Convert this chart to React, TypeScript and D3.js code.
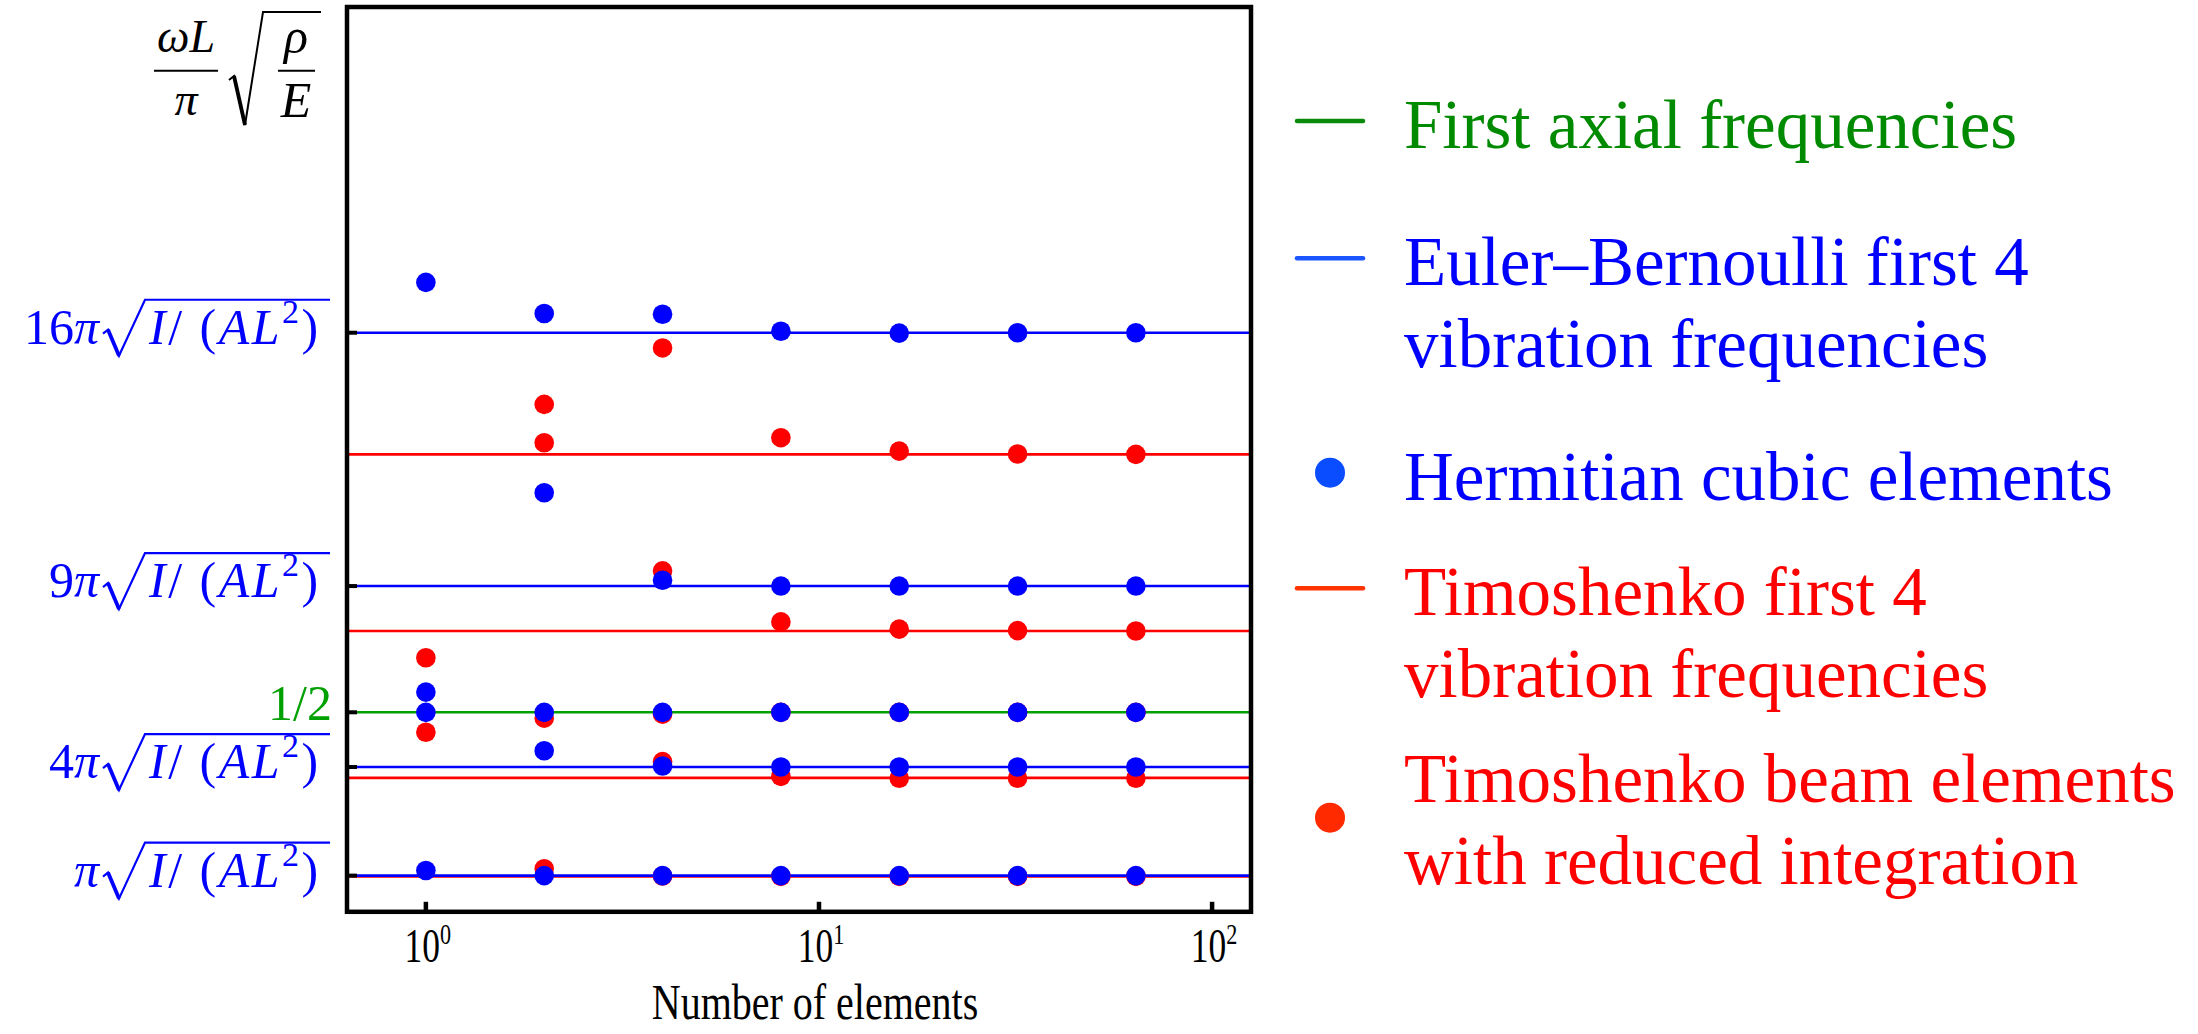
import React from 'react';
import * as d3 from 'd3';

// Number of finite elements used along the beam
const elementCounts = [1, 2, 4, 8, 16, 32, 64];

// π·√(I/(AL²)) for a beam of slenderness h/L = 0.1, in units of ωL/π·√(ρ/E)
const beamUnit = 0.0907;
const axialFrequency = 0.5;

// Analytic frequencies, as multiples of beamUnit
const eulerBernoulliModes = [1, 4, 9, 16];
const eulerBernoulliCoefs = ['', '4', '9', '16'];
const timoshenkoModes = [0.98, 3.7, 7.76, 12.64];

// Computed frequencies, as multiples of beamUnit (one list per element count)
const hermitianValues = [
  [17.39, 6.07, 5.51, 1.14],
  [16.53, 11.58, 5.51, 4.45, 1.0],
  [16.51, 9.16, 5.51, 4.03, 1.0],
  [16.04, 9.0, 5.51, 4.0, 1.0],
  [15.99, 9.0, 5.51, 4.0, 1.0],
  [16.0, 9.0, 5.51, 4.0, 1.0],
  [16.0, 9.0, 5.51, 4.0, 1.0],
];
const reducedIntegrationValues = [
  [7.02, 4.96],
  [14.02, 12.96, 5.35, 1.19],
  [15.58, 9.42, 5.46, 4.15, 0.99],
  [13.1, 8.01, 5.51, 3.74, 0.98],
  [12.73, 7.81, 5.51, 3.69, 0.98],
  [12.65, 7.77, 5.51, 3.69, 0.98],
  [12.64, 7.76, 5.51, 3.69, 0.98],
];

const xTickExponents = [0, 1, 2];

const legendEntries = [
  { kind: 'line', color: '#0a8a0a', text: '#008a00', lines: ['First axial frequencies'] },
  { kind: 'line', color: '#1a55ff', text: '#0000ff', lines: ['Euler\u2013Bernoulli first 4', 'vibration frequencies'] },
  { kind: 'dot', color: '#0a4cff', text: '#0000ff', lines: ['Hermitian cubic elements'] },
  { kind: 'line', color: '#ff3300', text: '#ff0000', lines: ['Timoshenko first 4', 'vibration frequencies'] },
  { kind: 'dot', color: '#ff2a00', text: '#ff0000', lines: ['Timoshenko beam elements', 'with reduced integration'] },
];

const W = 2198;
const H = 1034;
const frame = { left: 347, right: 1251, top: 7, bottom: 911.8 };
const serif = "'Liberation Serif', 'Times New Roman', serif";

const BLUE = '#0000ff';
const RED = '#ff0000';
const GREEN = '#00a000';

function RadicalLabel({ y, coef }: { y: number; coef: string }) {
  const b = y + 11;
  const top = b - 44;
  return (
    <g fill={BLUE} fontFamily={serif}>
      <text x={99} y={b} fontSize={50} textAnchor="end">
        {coef}
        <tspan fontStyle="italic">π</tspan>
      </text>
      <path
        d={`M103,${b - 10} L108,${b - 14} L119,${b + 12} L145,${top} L330,${top}`}
        fill="none"
        stroke={BLUE}
        strokeWidth={2.2}
        strokeLinejoin="miter"
      />
      <path d={`M108,${b - 14} L119,${b + 12}`} stroke={BLUE} strokeWidth={3.8} />
      <text x={149} y={b} fontSize={50} letterSpacing={2.5}>
        <tspan fontStyle="italic">I</tspan>
        <tspan>/ (</tspan>
        <tspan fontStyle="italic">AL</tspan>
        <tspan fontSize={34} dy={-21}>2</tspan>
        <tspan dy={21}>)</tspan>
      </text>
    </g>
  );
}

export default function App() {
  const x = d3.scaleLog().domain([0.63, 125.6]).range([frame.left, frame.right]);
  const y = d3.scaleLinear().domain([0, 25]).range([frame.bottom, frame.top]);

  const hermitianPoints = elementCounts.flatMap((n, i) => hermitianValues[i].map((v) => ({ n, v })));
  const reducedPoints = elementCounts.flatMap((n, i) => reducedIntegrationValues[i].map((v) => ({ n, v })));
  const axialLevel = axialFrequency / beamUnit;

  const hLine = (v: number, color: string, key: string) => (
    <line key={key} x1={frame.left} x2={frame.right} y1={y(v)} y2={y(v)} stroke={color} strokeWidth={2.6} />
  );

  const yTicks = [...eulerBernoulliModes, axialLevel];

  return (
    <svg
      width={W}
      height={H}
      viewBox={`0 0 ${W} ${H}`}
      style={{ position: 'absolute', left: 0, top: 0, background: '#fff' }}
    >
      <rect width={W} height={H} fill="#fff" />

      {/* y-axis quantity */}
      <g fontFamily={serif} fill="#000">
        <text x={186} y={52} fontSize={46} fontStyle="italic" textAnchor="middle">ωL</text>
        <line x1={154} x2={218} y1={70.7} y2={70.7} stroke="#000" strokeWidth={2} />
        <text x={186} y={115} fontSize={46} fontStyle="italic" textAnchor="middle">π</text>
        <path d="M229,80 L234,76 L245,125 L263,12 L321,12" fill="none" stroke="#000" strokeWidth={2} />
        <path d="M234,76 L245,125" stroke="#000" strokeWidth={3.8} />
        <text x={296} y={53} fontSize={50} fontStyle="italic" textAnchor="middle">ρ</text>
        <line x1={278} x2={315} y1={70.7} y2={70.7} stroke="#000" strokeWidth={2} />
        <text x={296} y={117} fontSize={50} fontStyle="italic" textAnchor="middle">E</text>
      </g>

      {/* analytic frequencies */}
      <g>
        {timoshenkoModes.map((m, i) => hLine(m, RED, `t${i}`))}
        {hLine(axialLevel, GREEN, 'axial')}
        {eulerBernoulliModes.map((m, i) => hLine(m, BLUE, `e${i}`))}
      </g>

      {/* computed frequencies */}
      <g>
        {reducedPoints.map((p, i) => (
          <circle key={`r${i}`} cx={x(p.n)} cy={y(p.v)} r={9.8} fill={RED} />
        ))}
        {hermitianPoints.map((p, i) => (
          <circle key={`h${i}`} cx={x(p.n)} cy={y(p.v)} r={9.8} fill={BLUE} />
        ))}
      </g>

      {/* frame and ticks */}
      <rect
        x={frame.left}
        y={frame.top}
        width={frame.right - frame.left}
        height={frame.bottom - frame.top}
        fill="none"
        stroke="#000"
        strokeWidth={4.5}
      />
      {yTicks.map((v, i) => (
        <line key={`yt${i}`} x1={frame.left} x2={frame.left + 10} y1={y(v)} y2={y(v)} stroke="#000" strokeWidth={4} />
      ))}
      {xTickExponents.map((k) => (
        <line
          key={`xt${k}`}
          x1={x(Math.pow(10, k))}
          x2={x(Math.pow(10, k))}
          y1={frame.bottom}
          y2={frame.bottom - 10}
          stroke="#000"
          strokeWidth={4.5}
        />
      ))}

      {/* tick labels */}
      {eulerBernoulliModes.map((m, i) => (
        <RadicalLabel key={`yl${i}`} y={y(m)} coef={eulerBernoulliCoefs[i]} />
      ))}
      <text x={332} y={y(axialLevel) + 8} fontSize={50} fill={GREEN} fontFamily={serif} textAnchor="end">
        1/2
      </text>
      {xTickExponents.map((k) => (
        <text
          key={`xl${k}`}
          transform={`translate(${x(Math.pow(10, k)) + 2},962) scale(0.74,1)`}
          fontSize={48}
          fontFamily={serif}
          textAnchor="middle"
          fill="#000"
        >
          10
          <tspan fontSize={30} dy={-18}>{k}</tspan>
        </text>
      ))}
      <text
        transform={`translate(${(frame.left + frame.right) / 2 + 16},1019) scale(0.8,1)`}
        fontSize={50}
        fontFamily={serif}
        textAnchor="middle"
        fill="#000"
      >
        Number of elements
      </text>

      {/* legend */}
      <g fontFamily={serif} fontSize={69}>
        {(() => {
          const baselines = [148.3, 285, 500, 615, 801.7];
          const markerY = [121, 258.3, 472.7, 588.3, 817.7];
          return legendEntries.map((e, i) => (
            <g key={`lg${i}`}>
              {e.kind === 'line' ? (
                <line x1={1297} x2={1363} y1={markerY[i]} y2={markerY[i]} stroke={e.color} strokeWidth={4.5} strokeLinecap="round" />
              ) : (
                <circle cx={1330} cy={markerY[i]} r={15} fill={e.color} />
              )}
              <text x={1404} y={baselines[i]} fill={e.text}>
                {e.lines.map((t, j) => (
                  <tspan key={j} x={1404} dy={j === 0 ? 0 : 82}>
                    {t}
                  </tspan>
                ))}
              </text>
            </g>
          ));
        })()}
      </g>
    </svg>
  );
}
